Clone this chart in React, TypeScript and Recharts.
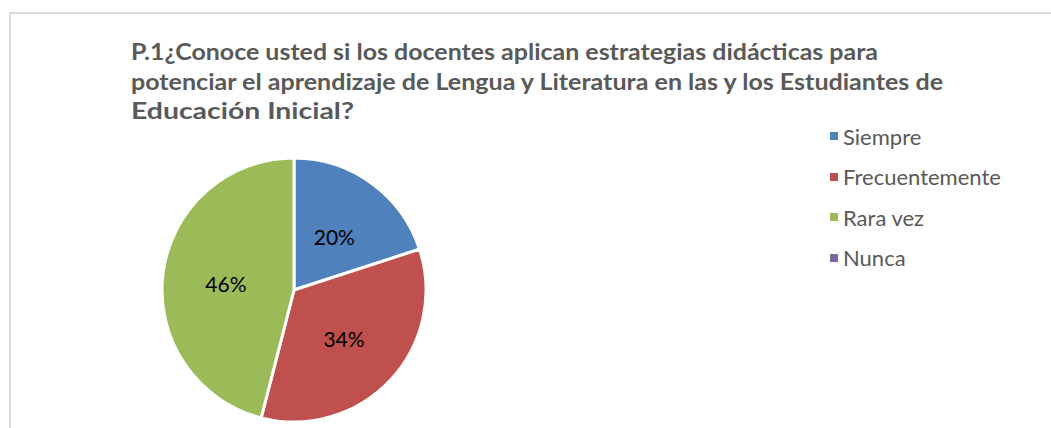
import React from 'react';
import { PieChart, Pie, Cell, Legend } from 'recharts';

const CATEGORIES = ['Siempre', 'Frecuentemente', 'Rara vez', 'Nunca'];
const VALUES = [20, 34, 46, 0];
const COLORS = ['#4F81BD', '#C0504D', '#9BBB59', '#8064A2'];
const TITLE_LINES = [
  'P.1¿Conoce usted si los docentes aplican estrategias didácticas para',
  'potenciar el aprendizaje de Lengua y Literatura en las y los Estudiantes de',
  'Educación Inicial?',
];
const TITLE_WIDTHS = [747, 812, 223];

const data = CATEGORIES.map((name, i) => ({ name, value: VALUES[i] }));
const FONT = 'Lato, "Open Sans", sans-serif';
const RAD = Math.PI / 180;

const renderLabel = (props: any) => {
  const { cx, cy, midAngle, outerRadius, value } = props;
  if (!value) return null;
  const r = outerRadius * 0.52;
  const x = cx + r * Math.cos(-midAngle * RAD);
  const y = cy + r * Math.sin(-midAngle * RAD) + 2;
  return (
    <text x={x} y={y} fill="#000" fontSize={21} fontFamily={FONT}
      textAnchor="middle" dominantBaseline="central">
      {`${value}%`}
    </text>
  );
};

const renderLegend = () => (
  <div style={{ fontFamily: FONT }}>
    {data.map((d, i) => (
      <div key={d.name} style={{ display: 'flex', alignItems: 'center', height: 40.5 }}>
        <span style={{ width: 8, height: 8, background: COLORS[i], marginRight: 5, display: 'inline-block' }} />
        <span style={{ fontSize: 22, color: '#595959' }}>{d.name}</span>
      </div>
    ))}
  </div>
);

const App: React.FC = () => (
  <div style={{ position: 'absolute', left: 0, top: 0, width: 1051, height: 428, background: '#fff', overflow: 'hidden' }}>
    <div style={{ position: 'absolute', left: 9, top: 12, width: 1100, height: 500, borderTop: '2px solid #d9d9d9', borderLeft: '2px solid #d9d9d9' }} />
    <svg style={{ position: 'absolute', left: 0, top: 0 }} width={1051} height={140}>
      {TITLE_LINES.map((t, i) => (
        <text key={i} x={131} y={60 + i * 29.5} fill="#595959" fontSize={23.5} fontWeight="bold"
          fontFamily={FONT} textLength={TITLE_WIDTHS[i]} lengthAdjust="spacingAndGlyphs">
          {t}
        </text>
      ))}
    </svg>
    <div style={{ position: 'absolute', left: 0, top: 0 }}>
      <PieChart width={1051} height={428} margin={{ top: 0, right: 0, bottom: 0, left: 0 }}>
        <Pie
          data={data}
          dataKey="value"
          nameKey="name"
          cx={294}
          cy={290}
          outerRadius={132}
          startAngle={90}
          endAngle={-270}
          stroke="#fff"
          strokeWidth={3}
          label={renderLabel}
          labelLine={false}
          isAnimationActive={false}
        >
          {data.map((entry, index) => (
            <Cell key={`cell-${index}`} fill={COLORS[index]} />
          ))}
        </Pie>
        <Legend
          layout="vertical"
          content={renderLegend}
          wrapperStyle={{ position: 'absolute', left: 830, top: 116, width: 210 }}
        />
      </PieChart>
    </div>
  </div>
);

export default App;
